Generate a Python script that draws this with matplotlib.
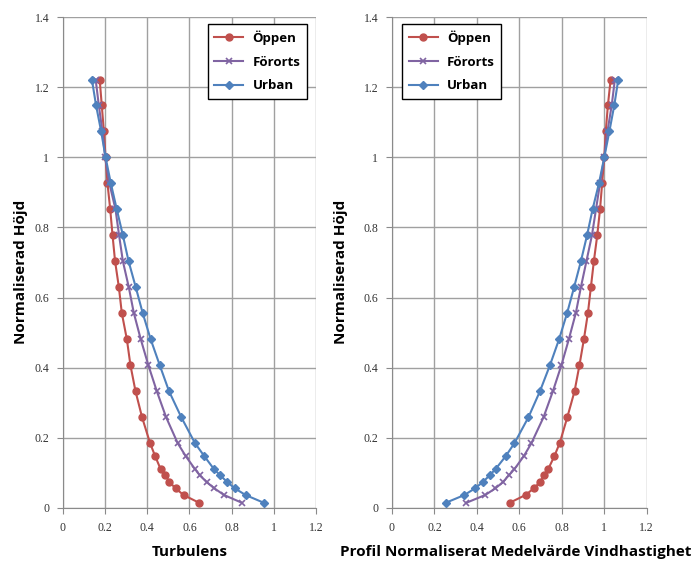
"""
Normaliserad höjd mot turbulens och medelvindhastighet
"""
import matplotlib
matplotlib.use("Agg")
import matplotlib.pyplot as plt

plt.rcParams['font.family'] = ['Open Sans', 'DejaVu Sans']

# normaliserad höjd
hojd = [0.015, 0.037, 0.056, 0.074, 0.093, 0.111, 0.148, 0.185, 0.259, 0.333, 0.407,
        0.481, 0.556, 0.630, 0.704, 0.778, 0.852, 0.926, 1.0, 1.074, 1.148, 1.222]

# turbulens
turb_oppen = [0.645, 0.572, 0.534, 0.505, 0.486, 0.463, 0.437, 0.413, 0.375, 0.344, 0.320,
              0.303, 0.279, 0.265, 0.247, 0.235, 0.224, 0.211, 0.202, 0.194, 0.184, 0.174]
turb_fororts = [0.848, 0.764, 0.718, 0.681, 0.649, 0.626, 0.582, 0.544, 0.489, 0.445, 0.405,
                0.369, 0.336, 0.312, 0.284, 0.266, 0.249, 0.220, 0.200, 0.187, 0.170, 0.155]
turb_urban = [0.952, 0.866, 0.815, 0.779, 0.746, 0.716, 0.670, 0.626, 0.561, 0.503, 0.459,
              0.416, 0.378, 0.345, 0.311, 0.284, 0.255, 0.227, 0.202, 0.181, 0.157, 0.137]

# medelvindhastighet
vind_oppen = [0.555, 0.629, 0.668, 0.698, 0.717, 0.736, 0.765, 0.790, 0.826, 0.860, 0.883,
              0.904, 0.923, 0.937, 0.951, 0.967, 0.980, 0.990, 1.0, 1.007, 1.017, 1.030]
vind_fororts = [0.351, 0.439, 0.487, 0.523, 0.550, 0.577, 0.621, 0.657, 0.714, 0.758, 0.798,
                0.833, 0.866, 0.890, 0.916, 0.942, 0.961, 0.980, 1.0, 1.015, 1.035, 1.050]
vind_urban = [0.254, 0.341, 0.391, 0.428, 0.460, 0.488, 0.536, 0.577, 0.643, 0.697, 0.744,
              0.787, 0.825, 0.858, 0.890, 0.919, 0.945, 0.975, 1.0, 1.024, 1.047, 1.066]

x_ticks = [0, 0.2, 0.4, 0.6, 0.8, 1, 1.2]
y_ticks = [0, 0.2, 0.4, 0.6, 0.8, 1, 1.2, 1.4]

fig = plt.figure(figsize=(6.96, 5.61), dpi=100)
ax1 = fig.add_axes([0.0905, 0.0945, 0.3635, 0.875])
ax2 = fig.add_axes([0.5632, 0.0945, 0.366, 0.875])

# (axel, serier, x-etikett, legendplats, ylabel-x, xlabel-x, legend-ankare)
paneler = [(ax1, turb_oppen, turb_fororts, turb_urban, "Turbulens",
            "upper right", -0.138, 0.5, (0.964, 0.986)),
           (ax2, vind_oppen, vind_fororts, vind_urban,
            "Profil Normaliserat Medelvärde Vindhastighet",
            "upper left", -0.173, 0.486, (0.039, 0.986))]

for ax, o, f, u, xl, loc, ylx, xlx, anchor in paneler:
    ax.plot(o, hojd, color='#C0504D', marker='o', markersize=5, linewidth=1.5, label="Öppen")
    ax.plot(f, hojd, color='#8064A2', marker='x', markersize=5, markeredgewidth=1.2,
            linewidth=1.5, label="Förorts")
    ax.plot(u, hojd, color='#4F81BD', marker='D', markersize=4, linewidth=1.5, label="Urban")

    ax.set_xlim(0, 1.2)
    ax.set_ylim(0, 1.4)
    ax.set_xticks(x_ticks)
    ax.set_yticks(y_ticks)
    ax.set_xticklabels([str(t) for t in x_ticks], family='Liberation Serif', fontsize=8.5,
                       color='#333333')
    ax.set_yticklabels([str(t) for t in y_ticks], family='Liberation Serif', fontsize=8.5,
                       color='#333333')
    ax.grid(True, color='#a0a0a0', linewidth=1.0)
    ax.set_axisbelow(True)
    for s in ['top', 'right']:
        ax.spines[s].set_visible(False)
    for s in ['left', 'bottom']:
        ax.spines[s].set_color('#8a8a8a')
    ax.tick_params(direction='out', length=4, color='#8a8a8a', pad=6)

    ax.set_xlabel(xl, fontsize=11, fontweight='bold')
    ax.xaxis.set_label_coords(xlx, -0.075)
    ax.set_ylabel("Normaliserad Höjd", fontsize=11, fontweight='bold')
    ax.yaxis.set_label_coords(ylx, 0.48)

    leg = ax.legend(loc=loc, bbox_to_anchor=anchor, borderaxespad=0, fancybox=False,
                    framealpha=1, edgecolor='black', prop={'weight': 'bold', 'size': 9.5},
                    borderpad=0.5, labelspacing=0.8, handlelength=2.2, handletextpad=0.7)
    leg.get_frame().set_linewidth(1.0)

fig.savefig("out.png", dpi=100)
